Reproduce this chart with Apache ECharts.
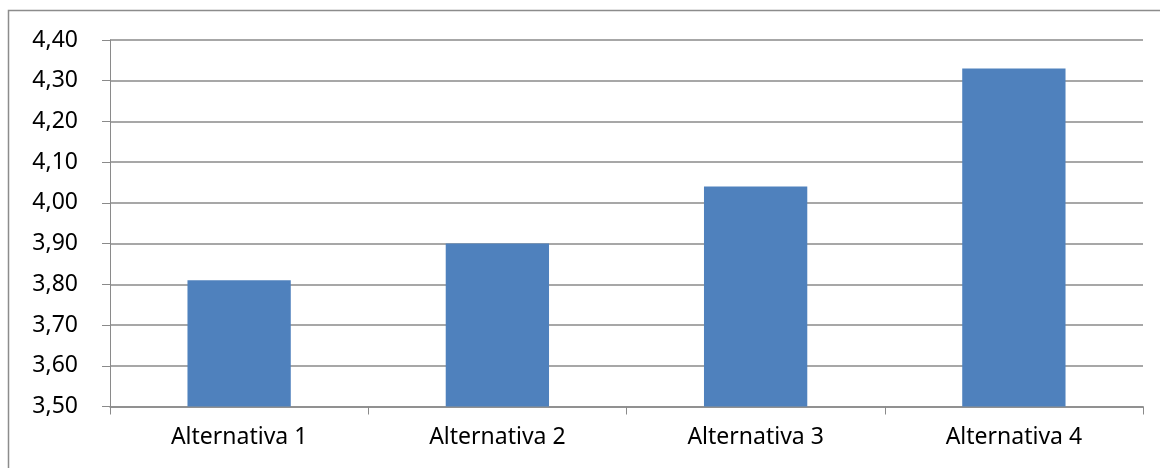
<!DOCTYPE html>
<html>
<head>
<meta charset="utf-8">
<script src="https://cdn.jsdelivr.net/npm/echarts@6/dist/echarts.min.js"></script>
<style>
  html, body { margin: 0; padding: 0; background: #ffffff; }
  #chart { width: 1160px; height: 468px; }
</style>
</head>
<body>
<div id="chart"></div>
<script>
// Average score per alternative
const categories = ['Alternativa 1', 'Alternativa 2', 'Alternativa 3', 'Alternativa 4'];
const scores = [3.81, 3.90, 4.04, 4.33];
const yMin = 3.5;
const yMax = 4.4;
const yStep = 0.1;

const labelFont = 'Noto Sans';
const gridGray = '#8a8a8a';

const chart = echarts.init(document.getElementById('chart'), null, { renderer: 'canvas' });

chart.setOption({
  backgroundColor: '#ffffff',
  animation: false,
  graphic: [{
    type: 'rect',
    shape: { x: 8.5, y: 10.5, width: 1300, height: 600 },
    style: { fill: 'none', stroke: '#8c8c8c', lineWidth: 1.5 },
    silent: true
  }],
  grid: { left: 110, right: 17, top: 40, bottom: 61.5 },
  xAxis: {
    type: 'category',
    data: categories,
    axisLine: { show: true, lineStyle: { color: gridGray, width: 1.5 } },
    axisTick: { show: true, alignWithLabel: false, length: 8, lineStyle: { color: gridGray, width: 1 } },
    axisLabel: { color: '#000000', fontFamily: labelFont, fontSize: 23, margin: 19 },
    splitLine: { show: false }
  },
  yAxis: {
    type: 'value',
    min: yMin,
    max: yMax,
    interval: yStep,
    axisLine: { show: true, lineStyle: { color: gridGray, width: 1 } },
    axisTick: { show: true, inside: false, length: 8, lineStyle: { color: gridGray, width: 1 } },
    axisLabel: {
      color: '#000000',
      fontFamily: labelFont,
      fontSize: 23,
      margin: 32,
      formatter: v => v.toFixed(2).replace('.', ',')
    },
    splitLine: { show: true, lineStyle: { color: gridGray, width: 1.5 } }
  },
  series: [{
    type: 'bar',
    data: scores,
    barWidth: '40%',
    itemStyle: { color: '#4f81bd' }
  }]
});
</script>
</body>
</html>
